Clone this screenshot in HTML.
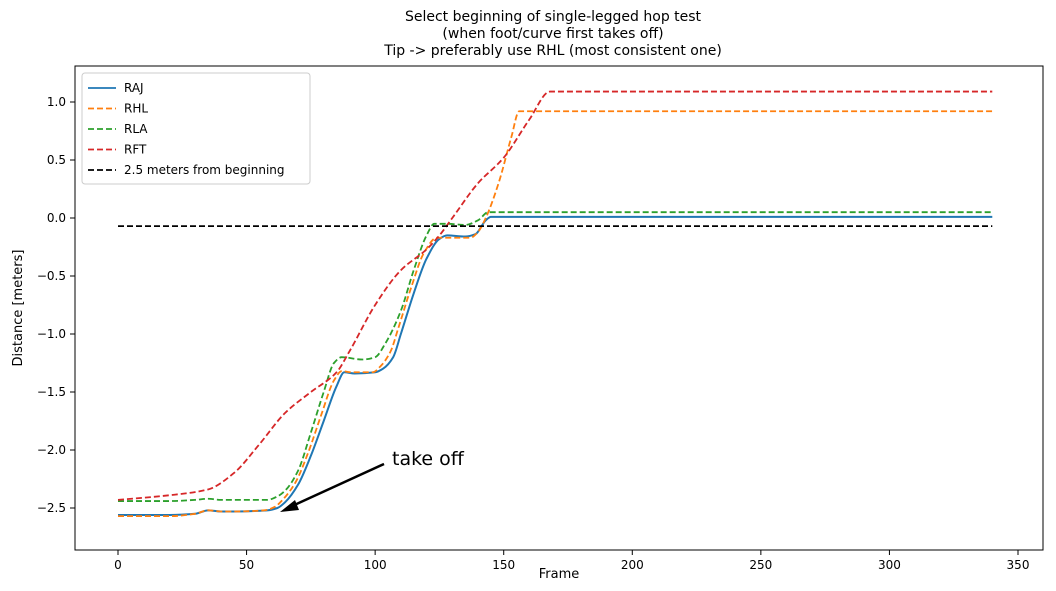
<!DOCTYPE html>
<html><head><meta charset="utf-8"><style>
body{margin:0;background:#fff;font-family:"DejaVu Sans","Liberation Sans",sans-serif}
svg text{font-family:"DejaVu Sans","Liberation Sans",sans-serif}
</style></head><body>
<svg id="chart" width="1056" height="587" viewBox="0 0 1056 587" xmlns="http://www.w3.org/2000/svg">
<rect width="1056" height="587" fill="#fff"/>
<g font-size="14" text-anchor="middle" fill="#000">
<text x="553" y="21">Select beginning of single-legged hop test</text>
<text x="553" y="38">(when foot/curve first takes off)</text>
<text x="553" y="55">Tip -&gt; preferably use RHL (most consistent one)</text>
</g>
<g id="plot"></g>
<rect x="75" y="66" width="968" height="484" fill="none" stroke="#000" stroke-width="1"/>
<text x="559" y="578" font-size="13" text-anchor="middle">Frame</text>
<text transform="translate(22,308) rotate(-90)" font-size="13" text-anchor="middle">Distance [meters]</text>
<g>
<rect x="82" y="73" width="228" height="111" rx="3" fill="#fff" stroke="#ccc"/>
<g id="legend-items"></g>
</g>
<g>
<text x="392" y="465" font-size="19" font-family="Liberation Sans, sans-serif" fill="#000">take off</text>
<line x1="384" y1="464" x2="290" y2="507" stroke="#000" stroke-width="2.5"/>
<polygon points="280,512 295,500 299,510" fill="#000"/>
</g>
</svg>
<script>
const xTicks=[0,50,100,150,200,250,300,350];
const yTicks=[1.0,0.5,0.0,-0.5,-1.0,-1.5,-2.0,-2.5];
const yTickLabels=["1.0","0.5","0.0","\u22120.5","\u22121.0","\u22121.5","\u22122.0","\u22122.5"];
const seriesNames=["RAJ","RHL","RLA","RFT","2.5 meters from beginning"];
const rajF=[0,20,30,35,40,45,58,62,65,70,75,80,85,88,92,100,103,107,110,115,120,125,128,135,139,143,145,340];
const rajV=[-2.56,-2.56,-2.55,-2.52,-2.53,-2.53,-2.52,-2.5,-2.45,-2.3,-2.05,-1.75,-1.45,-1.33,-1.34,-1.33,-1.3,-1.2,-1.0,-0.65,-0.35,-0.18,-0.15,-0.16,-0.14,-0.02,0.01,0.01];
const rhlF=[0,20,30,35,40,45,57,61,64,69,74,79,84,87,91,99,102,106,109,114,119,124,127,137,140,143,148,153,156,340];
const rhlV=[-2.57,-2.57,-2.55,-2.52,-2.53,-2.53,-2.52,-2.49,-2.43,-2.28,-2.02,-1.7,-1.4,-1.32,-1.33,-1.33,-1.28,-1.15,-0.95,-0.6,-0.3,-0.17,-0.17,-0.17,-0.12,0.0,0.3,0.7,0.92,0.92];
const rlaF=[0,20,30,35,40,45,58,62,65,70,75,80,84,87,95,100,104,110,115,120,123,128,135,140,144,340];
const rlaV=[-2.44,-2.44,-2.43,-2.42,-2.43,-2.43,-2.43,-2.4,-2.35,-2.18,-1.85,-1.5,-1.25,-1.2,-1.22,-1.2,-1.08,-0.8,-0.45,-0.15,-0.05,-0.05,-0.06,-0.02,0.05,0.05];
const rftF=[0,20,35,45,55,65,75,85,90,100,110,120,125,130,140,150,160,168,340];
const rftV=[-2.43,-2.39,-2.34,-2.2,-1.95,-1.68,-1.5,-1.33,-1.15,-0.75,-0.45,-0.27,-0.15,0.0,0.3,0.52,0.85,1.09,1.09];
const refF=[0,340];
const refV=[-0.07,-0.07];
const colors=["#1f77b4","#ff7f0e","#2ca02c","#d62728","#000"];
const NS="http://www.w3.org/2000/svg";
const X=f=>118+f*(1018-118)/350;
const Y=v=>218-v*(218-102);
const plot=document.getElementById('plot');
function mk(tag,attrs,parent){const e=document.createElementNS(NS,tag);for(const k in attrs)e.setAttribute(k,attrs[k]);parent.appendChild(e);return e;}
xTicks.forEach(t=>{
 const g=mk('g',{},plot);
 
 
 mk('line',{x1:X(t),x2:X(t),y1:550,y2:555,stroke:'#000'},g);
 const tx=mk('text',{x:X(t),y:569,'font-size':12,'text-anchor':'middle'},g);tx.textContent=t;
});
yTicks.forEach((t,i)=>{
 const g=mk('g',{},plot);
 
 
 mk('line',{x1:70,x2:75,y1:Y(t),y2:Y(t),stroke:'#000'},g);
 const tx=mk('text',{x:66,y:Y(t)+4,'font-size':12,'text-anchor':'end'},g);tx.textContent=yTickLabels[i];
});
// monotone cubic (Fritsch-Carlson) interpolation
function pathD(F,V){
 const x=F.map(X),y=V.map(Y),n=x.length;
 if(n<3){return 'M'+x[0]+','+y[0]+' L'+x[n-1]+','+y[n-1];}
 const d=[],m=new Array(n);
 for(let i=0;i<n-1;i++)d.push((y[i+1]-y[i])/(x[i+1]-x[i]));
 m[0]=d[0];m[n-1]=d[n-2];
 for(let i=1;i<n-1;i++){
  if(d[i-1]*d[i]<=0)m[i]=0;
  else{const h0=x[i]-x[i-1],h1=x[i+1]-x[i];const w1=2*h1+h0,w2=h1+2*h0;m[i]=(w1+w2)/(w1/d[i-1]+w2/d[i]);}
 }
 let s='M'+x[0]+','+y[0];
 for(let i=0;i<n-1;i++){
  const h=(x[i+1]-x[i])/3;
  s+=' C'+(x[i]+h)+','+(y[i]+m[i]*h)+' '+(x[i+1]-h)+','+(y[i+1]-m[i+1]*h)+' '+x[i+1]+','+y[i+1];
 }
 return s;
}
const all=[[rajF,rajV],[rhlF,rhlV],[rlaF,rlaV],[rftF,rftV],[refF,refV]];
const dashes=[null,"6,3","6,3","6,3","6,3"];
const lineNames=['line-raj','line-rhl','line-rla','line-rft','line-reference'];
all.forEach((s,i)=>{
 const e=mk('path',{d:pathD(s[0],s[1]),fill:'none',stroke:colors[i],'stroke-width':i==0?2:1.8},plot);
 if(dashes[i])e.setAttribute('stroke-dasharray',dashes[i]);
 
 
});
const leg=document.getElementById('legend-items');
seriesNames.forEach((n,i)=>{
 const g=mk('g',{},leg);
 
 
 const y=88+i*20.5;
 const l=mk('line',{x1:88,x2:116,y1:y,y2:y,stroke:colors[i],'stroke-width':1.8},g);
 if(dashes[i])l.setAttribute('stroke-dasharray',dashes[i]);
 const t=mk('text',{x:124,y:y+4,'font-size':12},g);t.textContent=n;
});
</script>
</body></html>
